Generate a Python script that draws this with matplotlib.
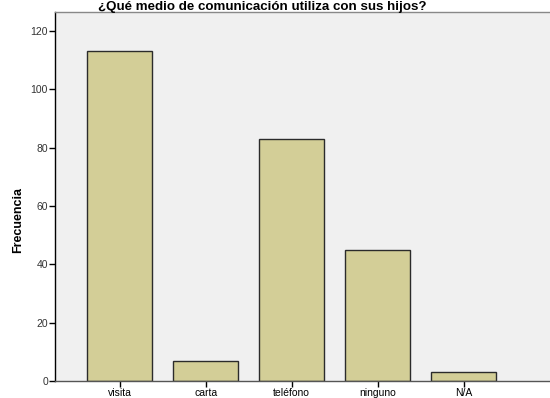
import matplotlib.pyplot as plt
import numpy as np

plt.rcParams['font.family'] = ['Liberation Sans', 'DejaVu Sans']

# datos
categorias = ['visita', 'carta', 'teléfono', 'ninguno', 'N/A']
frecuencia = [113, 7, 83, 45, 3]
yticks = [0, 20, 40, 60, 80, 100, 120]

fig = plt.figure(figsize=(5.5, 3.98), dpi=100)
# axes: left 55px, right 550px, top 12px, bottom 381px
ax = fig.add_axes([55/550, (398-381)/398, (550-55)/550, (381-12)/398])
ax.set_facecolor('#F0F0F0')

x = np.arange(len(categorias))
ax.bar(x, frecuencia, width=0.756, color='#D3CE97', edgecolor='#2b2b2b', linewidth=1.0, zorder=2)

ax.set_xlim(-0.75, 5.0)
ax.set_ylim(0, 126.5)
ax.set_xticks(x)
ax.set_xticklabels(categorias, fontsize=7.5)
ax.set_yticks(yticks)
ax.set_yticklabels([str(v) for v in yticks], fontsize=7.5, color='#333333')
ax.tick_params(axis='both', length=4, width=1, color='black', pad=1)

ax.spines['left'].set_color('black')
ax.spines['bottom'].set_color('#555555')
ax.spines['top'].set_color('#888888')
ax.spines['right'].set_visible(False)
for s in ['left', 'bottom', 'top']:
    ax.spines[s].set_linewidth(1.0)

fig.text(18/550, 1 - 220/398, 'Frecuencia', rotation=90, ha='center', va='center',
         fontsize=9, fontweight='bold')
fig.text(262/550, 1 - 1/398, '¿Qué medio de comunicación utiliza con sus hijos?',
         ha='center', va='top', fontsize=9.6, fontweight='bold')

fig.savefig('out.png', dpi=100)
